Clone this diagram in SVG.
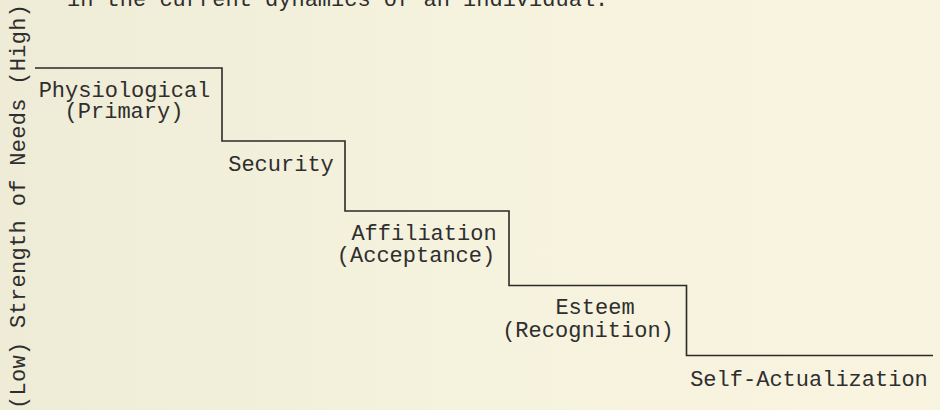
<svg xmlns="http://www.w3.org/2000/svg" width="940" height="410" viewBox="0 0 940 410">
  <defs>
    <linearGradient id="paper" x1="0" y1="0" x2="1" y2="0">
      <stop offset="0" stop-color="#eeebd6"/>
      <stop offset="0.5" stop-color="#f5f2de"/>
      <stop offset="1" stop-color="#f9f4df"/>
    </linearGradient>
  </defs>
  <style>
    .t { font-family: "Liberation Mono", "DejaVu Sans Mono", monospace; font-size: 22px; fill: #2e2e2e; }
    .c { text-anchor: middle; }
    .stair { fill: none; stroke: #2a2a2a; stroke-width: 1.6; stroke-linejoin: miter; }
  </style>
  <rect x="0" y="0" width="940" height="410" fill="url(#paper)"/>

  <text class="t" x="67" y="6">in the current dynamics of an individual.</text>

  <g id="axis-label">
    <text class="t" transform="translate(25,409) rotate(-90)" textLength="405" lengthAdjust="spacing">(Low) Strength of Needs (High)</text>
  </g>

  <g id="connectors">
    <path class="stair" d="M35,68 H222 V141 H345 V211 H509 V285.5 H686.5 V355.5 H933"/>
  </g>

  <g id="physiological">
    <text class="t c" x="124.5" y="97">Physiological</text>
    <text class="t c" x="124" y="118">(Primary)</text>
  </g>
  <g id="security">
    <text class="t c" x="281" y="171">Security</text>
  </g>
  <g id="affiliation">
    <text class="t c" x="424" y="240">Affiliation</text>
    <text class="t c" x="416" y="262">(Acceptance)</text>
  </g>
  <g id="esteem">
    <text class="t c" x="595" y="314">Esteem</text>
    <text class="t c" x="588" y="337">(Recognition)</text>
  </g>
  <g id="self-actualization">
    <text class="t c" x="809" y="386">Self-Actualization</text>
  </g>
</svg>
